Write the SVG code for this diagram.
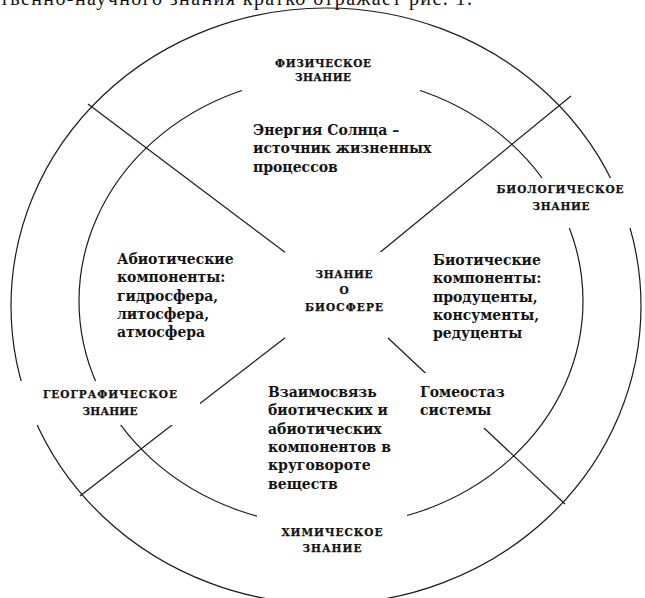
<svg xmlns="http://www.w3.org/2000/svg" width="645" height="598" viewBox="0 0 645 598">
<style>
.ring{fill:none;stroke:#1a1a1a;stroke-width:1.2}
.ln{stroke:#1a1a1a;stroke-width:1.2;fill:none}
.bg{fill:#fff;stroke:none}
.t{font-family:"DejaVu Serif","Liberation Serif",serif;font-weight:bold;font-size:14px;fill:#141414}
.cap{font-family:"DejaVu Serif","Liberation Serif",serif;font-weight:bold;font-size:10.5px;fill:#141414;text-anchor:middle;stroke:#141414;stroke-width:0.25}
.top{font-family:"Liberation Serif",serif;font-size:20px;fill:#111}
</style>
<rect x="0" y="0" width="645" height="598" fill="#fff"/>
<text class="top" x="0" y="5" textLength="472">твенно-научного знания кратко отражает рис. 1.</text>
<g id="rings">
<ellipse class="ring" cx="326" cy="306" rx="315" ry="298"/>
<ellipse class="ring" cx="331" cy="301" rx="252" ry="225"/>
</g>
<g id="connectors">
<line class="ln" x1="88" y1="104" x2="290" y2="256"/>
<line class="ln" x1="571" y1="96" x2="378" y2="254"/>
<line class="ln" x1="80" y1="496" x2="290" y2="334"/>
<line class="ln" x1="565" y1="504" x2="388" y2="338"/>
</g>
<g id="n-physics">
<rect class="bg" x="242" y="40" width="178" height="51"/>
<text class="cap" x="323" y="67" textLength="96">ФИЗИЧЕСКОЕ</text>
<text class="cap" x="323" y="81" textLength="56">ЗНАНИЕ</text>
</g>
<g id="n-biology">
<rect class="bg" x="490" y="178" width="160" height="50"/>
<text class="cap" x="560" y="193" textLength="127">БИОЛОГИЧЕСКОЕ</text>
<text class="cap" x="561" y="210" textLength="57">ЗНАНИЕ</text>
</g>
<g id="n-geography">
<rect class="bg" x="6" y="381" width="194" height="44"/>
<text class="cap" x="110" y="398" textLength="134">ГЕОГРАФИЧЕСКОЕ</text>
<text class="cap" x="110" y="415" textLength="55">ЗНАНИЕ</text>
</g>
<g id="n-chemistry">
<rect class="bg" x="257" y="505" width="150" height="58"/>
<text class="cap" x="332" y="536" textLength="101">ХИМИЧЕСКОЕ</text>
<text class="cap" x="332" y="552" textLength="59">ЗНАНИЕ</text>
</g>
<g id="n-center">
<rect class="bg" x="285" y="252" width="100" height="90"/>
<text class="cap" x="344" y="278" textLength="57">ЗНАНИЕ</text>
<text class="cap" x="344" y="294">О</text>
<text class="cap" x="344" y="311" textLength="78">БИОСФЕРЕ</text>
</g>
<g id="n-sun">
<text class="t" x="253" y="135">Энергия Солнца –</text>
<text class="t" x="253" y="153.3">источник жизненных</text>
<text class="t" x="253" y="171.6">процессов</text>
</g>
<g id="n-abiotic">
<text class="t" x="117" y="264">Абиотические</text>
<text class="t" x="117" y="282.3">компоненты:</text>
<text class="t" x="117" y="300.6">гидросфера,</text>
<text class="t" x="117" y="319">литосфера,</text>
<text class="t" x="117" y="337.3">атмосфера</text>
</g>
<g id="n-biotic">
<text class="t" x="433" y="265">Биотические</text>
<text class="t" x="433" y="283.3">компоненты:</text>
<text class="t" x="433" y="301.6">продуценты,</text>
<text class="t" x="433" y="320">консументы,</text>
<text class="t" x="433" y="338.3">редуценты</text>
</g>
<g id="n-cycle">
<text class="t" x="268" y="397">Взаимосвязь</text>
<text class="t" x="268" y="415.3">биотических и</text>
<text class="t" x="268" y="433.6">абиотических</text>
<text class="t" x="268" y="452">компонентов в</text>
<text class="t" x="268" y="470.3">круговороте</text>
<text class="t" x="268" y="488.6">веществ</text>
</g>
<g id="n-homeostasis">
<rect class="bg" x="412" y="373" width="106" height="55"/>
<text class="t" x="420" y="397">Гомеостаз</text>
<text class="t" x="420" y="415.3">системы</text>
</g>
</svg>
